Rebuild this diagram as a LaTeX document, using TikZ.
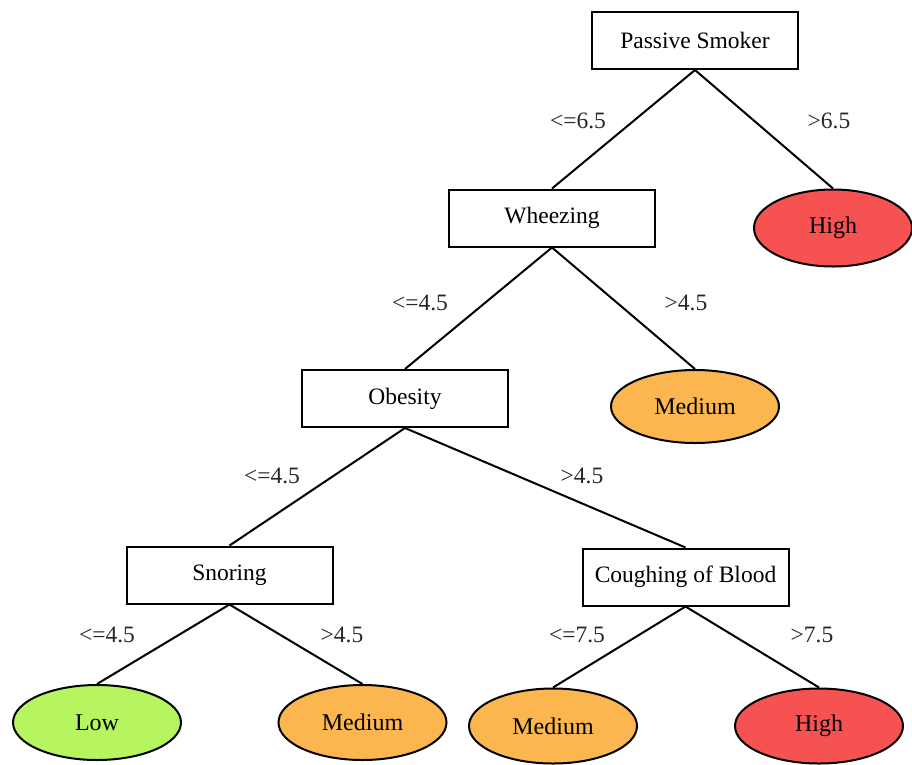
\documentclass[tikz,border=0pt]{standalone}
\usepackage{fontspec}
\setmainfont{Liberation Serif}
\usetikzlibrary{shapes.geometric}
\definecolor{hired}{RGB}{246,82,82}
\definecolor{medorange}{RGB}{252,182,80}
\definecolor{lowgreen}{RGB}{182,245,96}
\tikzset{
  attr/.style={draw, line width=2pt, rectangle, minimum width=206pt, minimum height=57pt, inner sep=0pt, font=\fontsize{23.5}{26}\selectfont},
  leaf/.style={draw, line width=2pt, ellipse, minimum width=168pt, minimum height=75pt, inner sep=0pt, font=\fontsize{24}{26}\selectfont},
  edge/.style={line width=2pt},
  lbl/.style={font=\fontsize{23.5}{26}\selectfont, text=black!85}
}
\begin{document}
\begin{tikzpicture}[x=1pt,y=-1pt]
\useasboundingbox (0,0) rectangle (912,764);
\node[attr] (ps) at (695,40.5) {Passive Smoker};
\node[attr] (wh) at (552,218) {Wheezing};
\node[leaf, fill=hired, minimum width=158pt, minimum height=77pt] (h1) at (833,228) {High};
\node[attr] (ob) at (405,398.5) {Obesity};
\node[leaf, fill=medorange, minimum height=73pt] (m1) at (695,406.5) {Medium};
\node[attr] (sn) at (229.5,575) {Snoring};
\node[attr] (cb) at (685.5,577) {Coughing of Blood};
\node[leaf, fill=lowgreen] (lo) at (97,722.5) {Low};
\node[leaf, fill=medorange] (m2) at (362.5,722.5) {Medium};
\node[leaf, fill=medorange] (m3) at (553,726) {Medium};
\node[leaf, fill=hired] (h2) at (819,726) {High};

\draw[edge] (ps.south) -- (wh.north);
\draw[edge] (ps.south) -- (h1.north);
\draw[edge] (wh.south) -- (ob.north);
\draw[edge] (wh.south) -- (m1.north);
\draw[edge] (ob.south) -- (sn.north);
\draw[edge] (ob.south) -- (cb.north);
\draw[edge] (sn.south) -- (lo.north);
\draw[edge] (sn.south) -- (m2.north);
\draw[edge] (cb.south) -- (m3.north);
\draw[edge] (cb.south) -- (h2.north);

\node[lbl] (l1) at (578,121) {<=6.5};
\node[lbl] (l2) at (829,121) {>6.5};
\node[lbl] (l3) at (420,303) {<=4.5};
\node[lbl] (l4) at (686,303) {>4.5};
\node[lbl] (l5) at (272,476) {<=4.5};
\node[lbl] (l6) at (582,476) {>4.5};
\node[lbl] (l7) at (107,635) {<=4.5};
\node[lbl] (l8) at (342,635) {>4.5};
\node[lbl] (l9) at (577,635) {<=7.5};
\node[lbl] (l10) at (812,635) {>7.5};
\end{tikzpicture}
\end{document}
